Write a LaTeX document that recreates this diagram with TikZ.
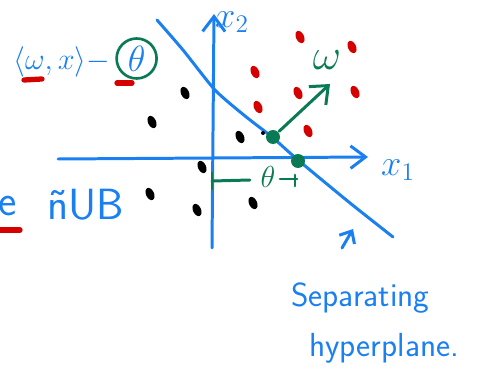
\documentclass[tikz,border=0pt]{standalone}
\usetikzlibrary{arrows.meta, positioning, shapes.geometric, calc}
\definecolor{hblue}{HTML}{1A7FF0}
\definecolor{hgreen}{HTML}{0A7A55}
\definecolor{hred}{HTML}{D50000}
\tikzset{
  every picture/.style={line width=1.7pt, line cap=round, line join=round},
  axis/.style={draw=hblue, -{Straight Barb[length=3mm, width=4.5mm]}},
  blob/.style={ellipse, fill=#1, minimum width=0.16cm, minimum height=0.26cm, inner sep=0pt, rotate=25},
  blob/.default=black,
  gdot/.style={circle, fill=hgreen, minimum size=0.28cm, inner sep=0pt},
  hand/.style={text=#1, font=\LARGE\sffamily, inner sep=1pt},
  hand/.default=hblue,
  underl/.style={draw=hred, line width=3pt},
  garrow/.style={draw=hgreen, -{Straight Barb[length=3mm, width=5mm]}},
  pointer/.style={draw=hblue, -{Straight Barb[length=2mm, width=3.5mm]}},
}

\begin{document}
\begin{tikzpicture}[x=0.02cm, y=-0.02cm]
  \useasboundingbox (0,0) rectangle (493,388);
  % axes
  \coordinate (xs) at (58,159);
  \coordinate (xe) at (368,157);
  \coordinate (ys) at (212,248);
  \coordinate (ye) at (214,14);
  \draw[axis] (xs) -- (xe);
  \draw[axis] (ys) -- (ye);
  \node[hand, font=\huge] (xone) at (398,170) {$x_{1}$};
  \node[hand, font=\huge] (xtwo) at (232,22) {$x_{2}$};
  % separating line
  \draw[hblue] plot[smooth, tension=0.4] coordinates {(157,20) (183,50) (215,90) (245,116) (272,137) (298,160) (350,203) (393,237)};
  % the two classes
  \foreach \x/\y/\n in {300/37/r1, 352/47/r2, 255/72/r3, 298/93/r4, 355/92/r5, 258/107/r6, 308/131/r7} {
    \node[blob=hred] (\n) at (\x,\y) {};
  }
  \foreach \x/\y/\n in {185/93/b1, 152/122/b2, 240/137/b3, 202/167/b4, 150/194/b5, 197/210/b6, 253/203/b7} {
    \node[blob] (\n) at (\x,\y) {};
  }
  \node[circle, fill=black, minimum size=0.08cm, inner sep=0pt] (tiny) at (263,133) {};
  % normal vector and offset
  \node[gdot] (gw) at (273,137) {};
  \node[gdot] (gx) at (298,161) {};
  \coordinate (wtip) at (330,84);
  \draw[garrow] (gw) -- (wtip);
  \node[hand=hgreen, font=\Huge] (wlab) at (327,60) {$\omega$};
  \draw[hgreen] (212,173) -- (212,189);
  \draw[hgreen] (212,181) -- (250,180);
  \node[hand=hgreen, font=\LARGE] (theta) at (268,177) {$\theta$};
  \draw[hgreen] (280,179) -- (297,179);
  \draw[hgreen] (295,175) -- (295,186);
  % decision function
  \node[hand, font=\LARGE, anchor=west] (expr) at (10,62) {$\langle\omega,x\rangle-$};
  \node[hand, font=\huge, circle, draw=hgreen, line width=1.5pt, minimum size=0.8cm, inner sep=0pt, right=1pt of expr, yshift=2pt] (thc) {$\theta$};
  \draw[underl] (24,80) -- (42,79);
  \draw[underl] (117,83) -- (132,83);
  % bottom left
  \node[hand, font=\Huge\sffamily] (ee) at (8,206) {e};
  \draw[underl] (0,230) -- (20,230);
  \node[hand, font=\Huge\sffamily] (nub) at (86,205) {ñUB};
  % label
  \node[hand, font=\fontsize{19}{23}\selectfont\sffamily, anchor=west] (sep) at (288,298) {Separating};
  \node[hand, font=\fontsize{19}{23}\selectfont\sffamily, anchor=west] (hyp) at (306,348) {hyperplane.};
  \coordinate (ptail) at (342,248);
  \coordinate (phead) at (353,229);
  \draw[pointer] (ptail) -- (phead);
\end{tikzpicture}
\end{document}
